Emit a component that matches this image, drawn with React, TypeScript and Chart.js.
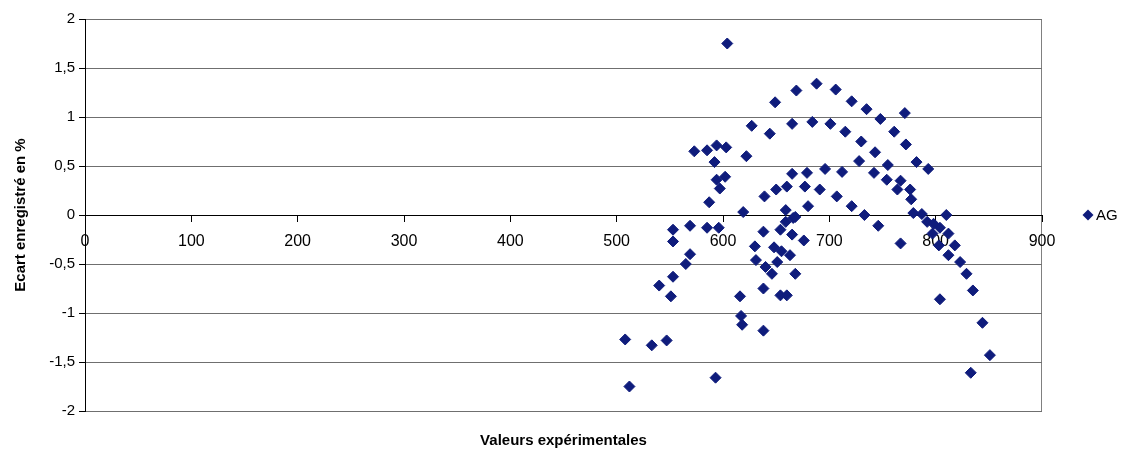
import React, { useEffect, useRef } from "react";
import { Chart, registerables } from "chart.js";

Chart.register(...registerables);

const seriesName = "AG";
const xAxisTitle = "Valeurs expérimentales";
const yAxisTitle = "Ecart enregistré en %";

// Series AG : experimental values (x)
const agX = [
  508, 512, 533, 547, 540, 551, 553, 565, 569, 553,
  553, 569, 585, 596, 587, 597, 594, 602, 592, 573,
  585, 594, 603, 604, 593, 619, 616, 617, 618, 622,
  627, 644, 649, 669, 665, 665, 650, 660, 639, 659,
  666, 659, 638, 654, 665, 630, 648, 655, 663, 631,
  640, 646, 668, 638, 654, 660, 638, 676, 651, 684,
  688, 706, 701, 721, 715, 735, 730, 748, 771, 761,
  772, 743, 728, 755, 782, 793, 679, 696, 712, 742,
  754, 767, 677, 691, 707, 764, 776, 777, 680, 721,
  733, 746, 779, 787, 810, 792, 798, 804, 767, 797,
  812, 803, 818, 812, 823, 829, 835, 804, 844, 851,
  833, 668,
];

// Series AG : recorded deviation in % (y)
const agY = [
  -1.27, -1.75, -1.33, -1.28, -0.72, -0.83, -0.63, -0.5, -0.4, -0.15,
  -0.27, -0.11, -0.13, -0.13, 0.13, 0.27, 0.36, 0.39, 0.54, 0.65,
  0.66, 0.71, 0.69, 1.75, -1.66, 0.03, -0.83, -1.03, -1.12, 0.6,
  0.91, 0.83, 1.15, 1.27, 0.93, 0.42, 0.26, 0.29, 0.19, 0.05,
  -0.03, -0.07, -0.17, -0.15, -0.2, -0.32, -0.33, -0.37, -0.41, -0.46,
  -0.53, -0.6, -0.6, -0.75, -0.82, -0.82, -1.18, -0.26, -0.48, 0.95,
  1.34, 1.28, 0.93, 1.16, 0.85, 1.08, 0.75, 0.98, 1.04, 0.85,
  0.72, 0.64, 0.55, 0.51, 0.54, 0.47, 0.43, 0.47, 0.44, 0.43,
  0.36, 0.35, 0.29, 0.26, 0.19, 0.26, 0.26, 0.16, 0.09, 0.09,
  0.0, -0.11, 0.02, 0.01, 0.0, -0.07, -0.09, -0.13, -0.29, -0.19,
  -0.19, -0.31, -0.31, -0.41, -0.48, -0.6, -0.77, -0.86, -1.1, -1.43,
  -1.61, -0.02,
];

const xMin = 0;
const xMax = 900;
const xStep = 100;
const yMin = -2;
const yMax = 2;
const yStep = 0.5;

const markerColor = "#0f1c7c";
const FONT = "'Liberation Sans', Arial, sans-serif";

const decorPlugin = {
  id: "decor",
  beforeDraw(chart: any) {
    const { ctx, chartArea: a } = chart;
    ctx.save();
    ctx.strokeStyle = "#808080";
    ctx.lineWidth = 1;
    ctx.strokeRect(a.left + 0.5, a.top + 0.5, a.right - a.left - 1, a.bottom - a.top);
    ctx.restore();
  },
  afterDraw(chart: any) {
    const { ctx, chartArea: a } = chart;
    ctx.save();
    ctx.fillStyle = "#000";
    ctx.font = `bold 15px ${FONT}`;
    ctx.textAlign = "center";
    ctx.textBaseline = "middle";
    ctx.fillText(xAxisTitle, (a.left + a.right) / 2, 441);
    ctx.translate(21, (a.top + a.bottom) / 2);
    ctx.rotate(-Math.PI / 2);
    ctx.fillText(yAxisTitle, 0, 0);
    ctx.restore();

    // legend
    ctx.save();
    const lx = 1088;
    const ly = 215;
    const r = 5.5;
    ctx.fillStyle = markerColor;
    ctx.beginPath();
    ctx.moveTo(lx - r, ly);
    ctx.lineTo(lx, ly - r);
    ctx.lineTo(lx + r, ly);
    ctx.lineTo(lx, ly + r);
    ctx.closePath();
    ctx.fill();
    ctx.fillStyle = "#000";
    ctx.font = `15px ${FONT}`;
    ctx.textAlign = "left";
    ctx.textBaseline = "middle";
    ctx.fillText(seriesName, lx + 8, ly + 1);
    ctx.restore();
  },
};

export default function App() {
  const canvasRef = useRef<HTMLCanvasElement | null>(null);

  useEffect(() => {
    if (!canvasRef.current) return;
    const points = agX.map((x, i) => ({ x, y: agY[i] }));
    const chart = new Chart(canvasRef.current, {
      type: "scatter",
      data: {
        datasets: [
          {
            label: seriesName,
            data: points,
            pointStyle: "rectRot",
            pointRadius: 5.5,
            pointHoverRadius: 5.5,
            backgroundColor: markerColor,
            borderColor: markerColor,
            borderWidth: 1,
          },
        ],
      },
      plugins: [decorPlugin],
      options: {
        animation: false,
        responsive: false,
        events: [],
        layout: { padding: { left: 0, right: 86, top: 19, bottom: 41 } },
        plugins: {
          legend: { display: false },
          tooltip: { enabled: false },
          title: { display: false },
        },
        scales: {
          x: {
            type: "linear",
            position: { y: 0 } as any,
            min: xMin,
            max: xMax,
            ticks: {
              stepSize: xStep,
              color: "#000",
              font: { family: FONT, size: 16 },
              padding: 11,
              maxRotation: 0,
              autoSkip: false,
            },
            grid: {
              drawOnChartArea: false,
              drawTicks: true,
              tickLength: 6,
              color: "#000",
            },
            border: { color: "#000", width: 1 },
          },
          y: {
            type: "linear",
            min: yMin,
            max: yMax,
            afterFit(scale: any) {
              scale.width = 85;
            },
            ticks: {
              stepSize: yStep,
              color: "#000",
              font: { family: FONT, size: 15 },
              padding: 4,
              callback: (v: any) => String(v).replace(".", ","),
            },
            grid: {
              color: "#6f6f6f",
              tickColor: "#000",
              tickLength: 6,
            },
            border: { color: "#000", width: 1 },
          },
        },
      },
    });
    return () => chart.destroy();
  }, []);

  return (
    <div style={{ position: "fixed", left: 0, top: 0, width: 1128, height: 452, background: "#fff" }}>
      <canvas ref={canvasRef} width={1128} height={452} style={{ display: "block" }} />
    </div>
  );
}
